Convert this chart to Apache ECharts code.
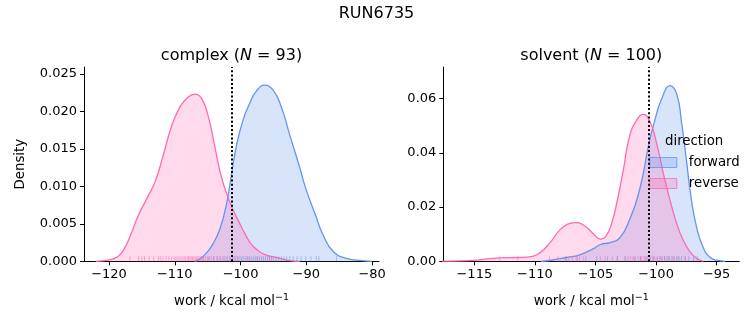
<!DOCTYPE html>
<html><head><meta charset="utf-8">
<script src="https://cdn.jsdelivr.net/npm/echarts@6/dist/echarts.min.js"></script>
<style>html,body{margin:0;padding:0;background:#fff}#c{width:753px;height:325px}</style>
</head><body><div id="c"></div>
<script>
const suptitle = 'RUN6735';
const panelNames = ['complex', 'solvent'];
const panelN = [93, 100];
const directions = ['forward', 'reverse'];

// KDE curves
const complexFwdX = [-107.0, -106.2, -105.2, -104.2, -103.1, -102.1, -101.4, -100.6, -99.6, -98.6, -97.6, -96.3, -95.1, -93.8, -92.5, -91.2, -90.0, -88.7, -87.4, -85.9, -83.9, -81.4, -80.0];
const complexFwdY = [0, 0.0003, 0.0011, 0.0023, 0.0044, 0.0078, 0.0115, 0.0155, 0.0189, 0.0211, 0.0227, 0.0235, 0.0229, 0.0206, 0.0168, 0.0131, 0.0095, 0.0064, 0.0034, 0.0013, 0.0004, 0.0001, 0];
const complexRevX = [-122.0, -120.0, -118.7, -117.8, -116.8, -115.6, -114.3, -113.0, -111.8, -110.5, -109.2, -108.0, -106.9, -105.9, -104.9, -104.0, -103.1, -102.1, -101.1, -100.1, -99.1, -98.1, -96.8, -95.5, -94.0, -92.5, -91.0];
const complexRevY = [0, 0.0002, 0.0006, 0.0015, 0.0033, 0.0060, 0.0083, 0.0106, 0.0140, 0.0180, 0.0206, 0.0219, 0.0223, 0.0217, 0.0193, 0.0157, 0.0119, 0.0090, 0.0068, 0.0050, 0.0033, 0.0020, 0.0011, 0.0007, 0.0004, 0.0001, 0];
const solventFwdX = [-109.5, -108.8, -107.4, -106.3, -105.2, -104.6, -103.8, -103.0, -102.2, -101.3, -100.6, -100.1, -99.55, -98.85, -98.3, -97.9, -97.5, -97.1, -96.65, -96.1, -95.55, -95.0, -94.3];
const solventFwdY = [0, 0.0003, 0.0014, 0.0024, 0.0046, 0.0062, 0.0069, 0.0086, 0.0152, 0.0275, 0.0432, 0.0521, 0.0598, 0.0648, 0.0618, 0.0515, 0.0375, 0.0232, 0.0125, 0.0050, 0.0015, 0.0004, 0];
const solventRevX = [-118.0, -117.0, -114.8, -112.9, -111.3, -110.3, -109.6, -108.8, -107.96, -107.3, -106.7, -106.0, -105.2, -104.6, -104.1, -103.6, -103.25, -102.7, -102.2, -101.6, -101.06, -100.5, -99.95, -99.4, -98.85, -98.3, -97.76, -97.2, -96.65, -96.1];
const solventRevY = [0, 0.0001, 0.0004, 0.0013, 0.0014, 0.0017, 0.0031, 0.0066, 0.0115, 0.0137, 0.0143, 0.0134, 0.0103, 0.0082, 0.0095, 0.0150, 0.0214, 0.0337, 0.0459, 0.0521, 0.0542, 0.0515, 0.0435, 0.0324, 0.0226, 0.0140, 0.0078, 0.0035, 0.0011, 0];

// rug samples (approximate)
const complexFwdRug = [-105.7, -104.8, -104.1, -103.5, -103.0, -102.5, -102.0, -101.6, -101.2, -100.8, -100.5, -100.1, -99.8, -99.5, -99.2, -98.9, -98.6, -98.3, -98.0, -97.7, -97.4, -97.1, -96.8, -96.5, -96.2, -95.9, -95.6, -95.3, -95.0, -94.6, -94.2, -93.8, -93.4, -93.0, -92.5, -92.0, -91.4, -90.8, -90.1, -89.3, -88.5, -88.1, -85.4];
const complexRevRug = [-116.8, -115.5, -115.0, -114.6, -113.9, -113.2, -112.5, -112.2, -111.8, -111.3, -110.9, -110.5, -110.1, -109.8, -109.5, -109.2, -108.9, -108.6, -108.4, -108.1, -107.9, -107.7, -107.5, -107.3, -107.1, -106.9, -106.7, -106.5, -106.3, -106.1, -105.9, -105.6, -105.3, -105.0, -104.7, -104.4, -104.0, -103.6, -103.2, -102.7, -102.2, -101.6, -101.0, -100.4, -98.9, -97.5, -95.6];
const solventFwdRug = [-107.4, -106.5, -105.8, -104.9, -104.0, -103.2, -102.5, -101.8, -101.3, -100.9, -100.5, -100.2, -99.9, -99.7, -99.5, -99.3, -99.1, -98.9, -98.7, -98.5, -98.3, -98.1, -97.9, -97.6, -97.3, -96.9, -96.6];
const solventRevRug = [-112.9, -111.4, -108.8, -108.1, -107.5, -107.2, -106.9, -106.6, -106.3, -106.0, -104.6, -104.2, -103.6, -103.2, -102.6, -102.3, -102.1, -101.9, -101.7, -101.5, -101.3, -101.2, -101.0, -100.8, -100.7, -100.5, -100.3, -100.1, -99.9, -99.6, -99.3, -99.0, -98.6, -98.2, -97.6];

// vertical dotted reference lines
const complexMark = -101.36;
const solventMark = -100.6;

// axes
const complexXRange = [-123.8, -78.95];
const solventXRange = [-117.56, -93.13];
const complexYMax = 0.02593;
const solventYMax = 0.0717;
const complexXTicks = [-120, -110, -100, -90, -80];
const solventXTicks = [-115, -110, -105, -100, -95];
const complexYTicks = [0, 0.005, 0.010, 0.015, 0.020, 0.025];
const solventYTicks = [0, 0.02, 0.04, 0.06];

const FONT = 'DejaVu Sans';
const BLUE = '#6495ED', PINK = '#FF69B4';
const BLUE_F = 'rgba(100,149,237,0.25)', PINK_F = 'rgba(255,105,180,0.25)';
const pairs = (xs, ys) => xs.map((x, i) => [x, ys[i]]);
const fmtMinus = s => s.replace('-', '\u2212');

function xAxis(i, range, ticks) {
  return {
    type: 'value', gridIndex: i, min: range[0], max: range[1],
    axisLine: {show: true, onZero: false, lineStyle: {color: '#000', width: 1}},
    axisTick: {show: true, length: 4, lineStyle: {color: '#000', width: 1}, customValues: ticks},
    axisLabel: {customValues: ticks, color: '#000', fontSize: 13, fontFamily: FONT, margin: 7,
      formatter: v => fmtMinus(String(v))},
    splitLine: {show: false},
    name: 'work / kcal mol{sup|\u22121}', nameLocation: 'middle', nameGap: 31,
    nameTextStyle: {color: '#000', fontSize: 13.3, fontFamily: FONT, lineHeight: 18,
      rich: {sup: {fontSize: 9.5, fontFamily: FONT, color: '#000', verticalAlign: 'top', lineHeight: 18}}}
  };
}
function yAxis(i, max, ticks, dec, name) {
  return {
    type: 'value', gridIndex: i, min: 0, max: max,
    axisLine: {show: true, lineStyle: {color: '#000', width: 1}},
    axisTick: {show: true, length: 4, lineStyle: {color: '#000', width: 1}, customValues: ticks},
    axisLabel: {customValues: ticks, color: '#000', fontSize: 13, fontFamily: FONT, margin: 7,
      formatter: v => v.toFixed(dec)},
    splitLine: {show: false},
    name: name, nameLocation: 'middle', nameGap: 57, nameRotate: 90,
    nameTextStyle: {color: '#000', fontSize: 13.3, fontFamily: FONT}
  };
}
function kde(i, xs, ys, color, fill, mark) {
  const s = {
    type: 'line', xAxisIndex: i, yAxisIndex: i, data: pairs(xs, ys), smooth: 0.5,
    symbol: 'none', showSymbol: false, silent: true,
    lineStyle: {color: color, width: 1.3}, itemStyle: {color: color},
    areaStyle: {color: fill, opacity: 1}
  };
  if (mark !== undefined) {
    s.markLine = {silent: true, symbol: 'none', label: {show: false},
      lineStyle: {color: '#000', width: 2, type: [2, 2.2]}, data: [{xAxis: mark}]};
  }
  return s;
}
function rug(i, vals, color) {
  return {type: 'scatter', xAxisIndex: i, yAxisIndex: i, data: vals.map(v => [v, 0]),
    symbol: 'rect', symbolSize: [1, 5], symbolOffset: [0, -2.5], clip: false, silent: true,
    itemStyle: {color: color, opacity: 0.55}, z: 3};
}
const titleStyle = {fontSize: 16, fontWeight: 'normal', color: '#000', fontFamily: FONT,
  rich: {it: {fontSize: 16, fontStyle: 'italic', color: '#000', fontFamily: FONT}}};

const chart = echarts.init(document.getElementById('c'), null, {renderer: 'canvas'});
chart.setOption({
  animation: false,
  backgroundColor: '#fff',
  title: [
    {text: suptitle, left: 'center', top: 6, padding: 0, textStyle: titleStyle},
    {text: panelNames[0] + ' ({it|N} = ' + panelN[0] + ')', left: 231.5, textAlign: 'center', top: 48, padding: 0, textStyle: titleStyle},
    {text: panelNames[1] + ' ({it|N} = ' + panelN[1] + ')', left: 591.3, textAlign: 'center', top: 48, padding: 0, textStyle: titleStyle},
    {text: 'direction', left: 665, top: 135, padding: 0, textStyle: {fontSize: 13.3, fontWeight: 'normal', color: '#000', fontFamily: FONT}}
  ],
  legend: {
    orient: 'vertical', left: 649.3, top: 154.5, padding: 0, itemGap: 5,
    itemWidth: 27, itemHeight: 10, icon: 'rect', selectedMode: false,
    textStyle: {fontSize: 13.3, fontFamily: FONT, color: '#000', lineHeight: 16, padding: [0, 0, 0, 7]},
    data: [
      {name: directions[0], itemStyle: {color: 'rgba(100,149,237,0.3)', borderColor: BLUE, borderWidth: 1}},
      {name: directions[1], itemStyle: {color: 'rgba(255,105,180,0.3)', borderColor: PINK, borderWidth: 1}}
    ]
  },
  grid: [
    {left: 84, top: 67, width: 295, height: 194.3},
    {left: 443.3, top: 67, width: 296, height: 194.3}
  ],
  xAxis: [xAxis(0, complexXRange, complexXTicks), xAxis(1, solventXRange, solventXTicks)],
  yAxis: [yAxis(0, complexYMax, complexYTicks, 3, 'Density'), yAxis(1, solventYMax, solventYTicks, 2, '')],
  series: [
    {type: 'scatter', name: directions[0], data: [], xAxisIndex: 1, yAxisIndex: 1, itemStyle: {color: BLUE}},
    {type: 'scatter', name: directions[1], data: [], xAxisIndex: 1, yAxisIndex: 1, itemStyle: {color: PINK}},
    kde(0, complexFwdX, complexFwdY, BLUE, BLUE_F),
    kde(0, complexRevX, complexRevY, PINK, PINK_F, complexMark),
    rug(0, complexFwdRug, BLUE),
    rug(0, complexRevRug, PINK),
    kde(1, solventFwdX, solventFwdY, BLUE, BLUE_F),
    kde(1, solventRevX, solventRevY, PINK, PINK_F, solventMark),
    rug(1, solventFwdRug, BLUE),
    rug(1, solventRevRug, PINK)
  ]
});
</script>
</body></html>
